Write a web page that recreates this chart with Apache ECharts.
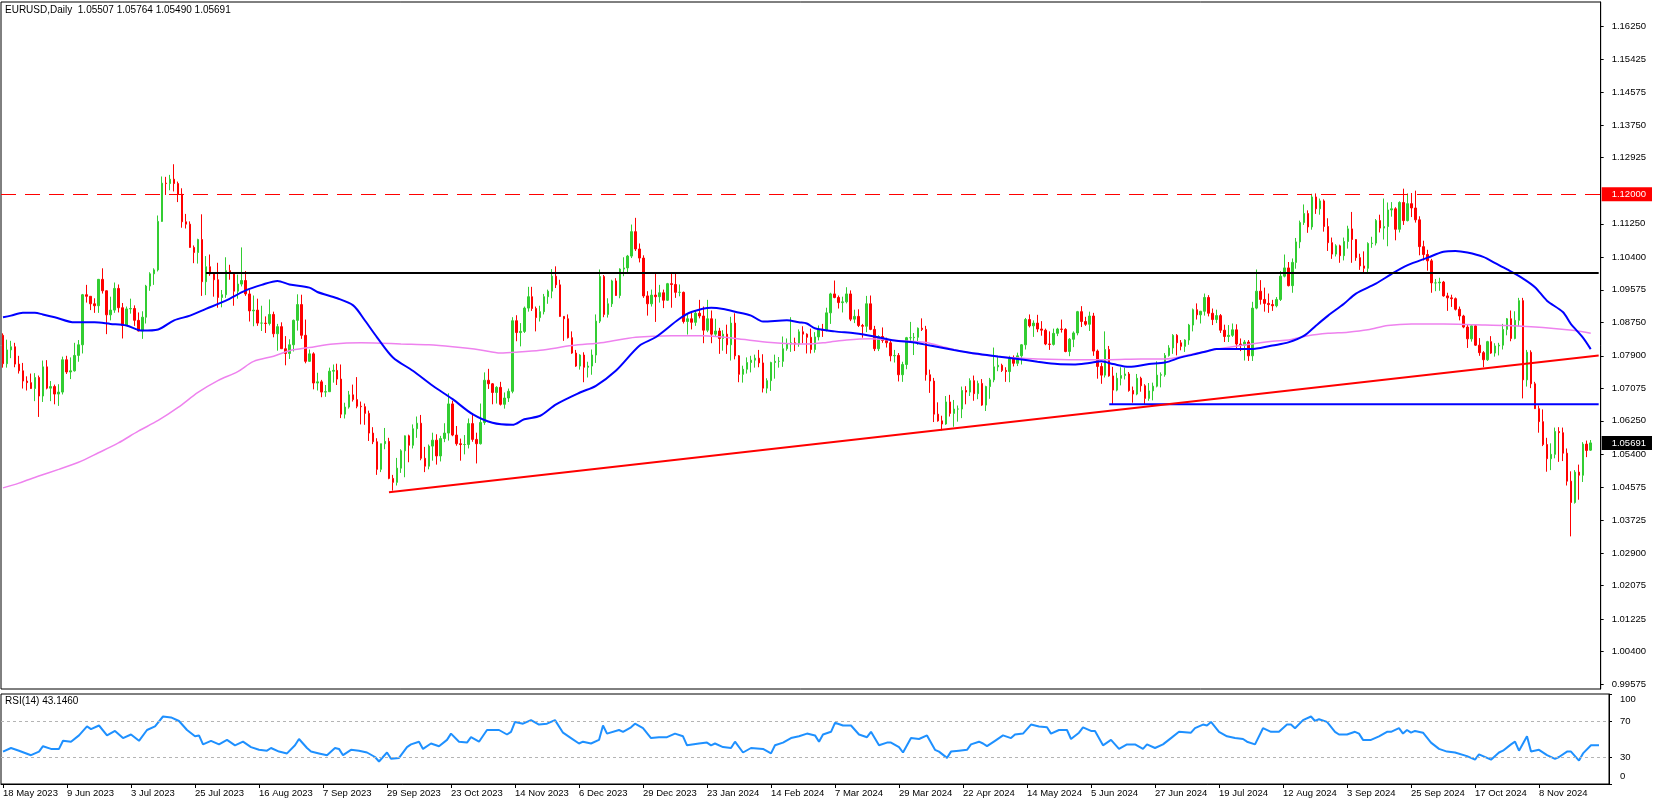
<!DOCTYPE html>
<html>
<head>
<meta charset="utf-8">
<title>EURUSD Daily</title>
<script src="https://cdn.jsdelivr.net/npm/echarts@6/dist/echarts.min.js"></script>
<style>
  html, body { margin: 0; padding: 0; background: #fff; }
  #chart { width: 1655px; height: 805px; }
</style>
</head>
<body>
<div id="chart"></div>
<script>
// daily bars, [open, high, low, close], 18 May 2023 .. 29 Nov 2024
const ohlc = [
  // May 2023
  [1.0842,1.0847,1.0760,1.0770],[1.0770,1.0831,1.0760,1.0805],[1.0805,1.0828,1.0784,1.0813],[1.0813,1.0823,1.0761,1.0769],
  [1.0769,1.0790,1.0745,1.0752],[1.0752,1.0772,1.0707,1.0726],[1.0726,1.0738,1.0702,1.0722],[1.0722,1.0745,1.0706,1.0707],
  [1.0707,1.0746,1.0675,1.0735],[1.0735,1.0740,1.0635,1.0688],
  // Jun 2023
  [1.0688,1.0778,1.0673,1.0762],[1.0762,1.0779,1.0705,1.0708],[1.0708,1.0726,1.0675,1.0712],[1.0712,1.0717,1.0667,1.0693],
  [1.0693,1.0718,1.0663,1.0698],[1.0698,1.0788,1.0692,1.0780],[1.0780,1.0790,1.0744,1.0749],[1.0749,1.0786,1.0731,1.0752],
  [1.0752,1.0823,1.0750,1.0791],[1.0791,1.0830,1.0775,1.0818],[1.0818,1.0947,1.0796,1.0945],[1.0945,1.0970,1.0925,1.0941],
  [1.0941,1.0941,1.0906,1.0922],[1.0922,1.0936,1.0899,1.0917],[1.0917,1.0985,1.0899,1.0984],[1.0984,1.1012,1.0948,1.0955],
  [1.0955,1.0956,1.0845,1.0894],[1.0894,1.0940,1.0880,1.0906],[1.0906,1.0976,1.0899,1.0961],[1.0961,1.0971,1.0900,1.0912],
  [1.0912,1.0924,1.0834,1.0867],[1.0867,1.0915,1.0866,1.0909],
  // Jul 2023
  [1.0909,1.0935,1.0897,1.0910],[1.0910,1.0918,1.0866,1.0880],[1.0880,1.0900,1.0852,1.0853],[1.0853,1.0903,1.0833,1.0888],
  [1.0888,1.0970,1.0872,1.0967],[1.0967,1.1002,1.0955,1.0998],[1.0998,1.1012,1.0970,1.1008],[1.1008,1.1146,1.1004,1.1131],
  [1.1131,1.1245,1.1130,1.1228],[1.1228,1.1244,1.1198,1.1227],[1.1227,1.1249,1.1210,1.1238],[1.1238,1.1276,1.1207,1.1227],
  [1.1227,1.1232,1.1180,1.1200],[1.1200,1.1215,1.1115,1.1130],[1.1130,1.1150,1.1113,1.1124],[1.1124,1.1131,1.1064,1.1065],
  [1.1065,1.1070,1.1025,1.1052],[1.1052,1.1087,1.1024,1.1085],[1.1085,1.1149,1.0942,1.0978],[1.0978,1.1043,1.0944,1.1016],
  [1.1016,1.1047,1.0993,1.0998],
  // Aug 2023
  [1.0998,1.1001,1.0940,1.0983],[1.0983,1.1026,1.0912,1.0938],[1.0938,1.0957,1.0913,1.0945],[1.0945,1.1040,1.0937,1.1006],
  [1.1006,1.1021,1.0983,1.0999],[1.0999,1.1002,1.0917,1.0954],[1.0954,1.0996,1.0935,1.0972],[1.0972,1.1065,1.0966,1.0981],
  [1.0981,1.1005,1.0942,1.0947],[1.0947,1.0957,1.0877,1.0904],[1.0904,1.0943,1.0865,1.0906],[1.0906,1.0935,1.0866,1.0873],
  [1.0873,1.0917,1.0853,1.0873],[1.0873,1.0890,1.0848,1.0872],[1.0872,1.0933,1.0867,1.0895],[1.0895,1.0902,1.0837,1.0846],
  [1.0846,1.0871,1.0803,1.0864],[1.0864,1.0875,1.0808,1.0808],[1.0808,1.0840,1.0766,1.0796],[1.0796,1.0832,1.0782,1.0818],
  [1.0818,1.0882,1.0801,1.0880],[1.0880,1.0946,1.0854,1.0920],[1.0920,1.0945,1.0833,1.0842],
  // Sep 2023
  [1.0842,1.0882,1.0771,1.0776],[1.0776,1.0806,1.0775,1.0795],[1.0795,1.0799,1.0705,1.0721],[1.0721,1.0747,1.0702,1.0724],
  [1.0724,1.0729,1.0685,1.0698],[1.0698,1.0716,1.0686,1.0699],[1.0699,1.0760,1.0699,1.0751],[1.0751,1.0768,1.0722,1.0753],
  [1.0753,1.0770,1.0716,1.0731],[1.0731,1.0768,1.0632,1.0642],[1.0642,1.0671,1.0631,1.0660],[1.0660,1.0701,1.0656,1.0691],
  [1.0691,1.0717,1.0674,1.0679],[1.0679,1.0736,1.0657,1.0662],[1.0662,1.0674,1.0616,1.0661],[1.0661,1.0669,1.0615,1.0644],
  [1.0644,1.0651,1.0574,1.0594],[1.0594,1.0609,1.0566,1.0572],[1.0572,1.0581,1.0488,1.0502],[1.0502,1.0567,1.0495,1.0567],
  [1.0567,1.0607,1.0553,1.0573],
  // Oct 2023
  [1.0573,1.0582,1.0477,1.0479],[1.0479,1.0488,1.0448,1.0469],[1.0469,1.0531,1.0461,1.0505],[1.0505,1.0553,1.0493,1.0549],
  [1.0549,1.0588,1.0482,1.0587],[1.0587,1.0590,1.0520,1.0563],[1.0563,1.0616,1.0555,1.0605],[1.0605,1.0636,1.0582,1.0619],
  [1.0619,1.0640,1.0525,1.0530],[1.0530,1.0559,1.0495,1.0510],[1.0510,1.0565,1.0502,1.0561],[1.0561,1.0595,1.0524,1.0576],
  [1.0576,1.0591,1.0514,1.0536],[1.0536,1.0587,1.0522,1.0580],[1.0580,1.0619,1.0571,1.0594],[1.0594,1.0695,1.0575,1.0668],
  [1.0668,1.0676,1.0586,1.0589],[1.0589,1.0612,1.0562,1.0567],[1.0567,1.0580,1.0524,1.0565],[1.0565,1.0589,1.0540,1.0565],
  [1.0565,1.0631,1.0555,1.0618],[1.0618,1.0640,1.0572,1.0578],
  // Nov 2023
  [1.0578,1.0595,1.0517,1.0567],[1.0567,1.0669,1.0565,1.0621],[1.0621,1.0748,1.0615,1.0728],[1.0728,1.0757,1.0706,1.0719],
  [1.0719,1.0721,1.0667,1.0697],[1.0697,1.0713,1.0669,1.0710],[1.0710,1.0724,1.0664,1.0667],[1.0667,1.0697,1.0656,1.0683],
  [1.0683,1.0707,1.0673,1.0700],[1.0700,1.0888,1.0695,1.0879],[1.0879,1.0893,1.0827,1.0849],[1.0849,1.0873,1.0814,1.0852],
  [1.0852,1.0915,1.0848,1.0911],[1.0911,1.0965,1.0902,1.0940],[1.0940,1.0965,1.0904,1.0910],[1.0910,1.0915,1.0852,1.0887],
  [1.0887,1.0917,1.0877,1.0902],[1.0902,1.0947,1.0895,1.0940],[1.0940,1.0958,1.0922,1.0954],[1.0954,1.1010,1.0936,1.0992],
  [1.0992,1.1017,1.0962,1.0970],[1.0970,1.0983,1.0889,1.0890],
  // Dec 2023
  [1.0890,1.0891,1.0828,1.0884],[1.0884,1.0895,1.0834,1.0836],[1.0836,1.0852,1.0795,1.0797],[1.0797,1.0805,1.0762,1.0764],
  [1.0764,1.0794,1.0755,1.0792],[1.0792,1.0799,1.0723,1.0761],[1.0761,1.0775,1.0735,1.0764],[1.0764,1.0806,1.0742,1.0792],
  [1.0792,1.0895,1.0772,1.0878],[1.0878,1.1009,1.0873,1.0991],[1.0991,1.0995,1.0888,1.0895],[1.0895,1.0936,1.0887,1.0922],
  [1.0922,1.0983,1.0914,1.0980],[1.0980,1.0987,1.0942,1.0943],[1.0943,1.1012,1.0936,1.1010],[1.1010,1.1040,1.0992,1.1013],
  [1.1013,1.1046,1.1001,1.1043],[1.1043,1.1123,1.1038,1.1105],[1.1105,1.1140,1.1056,1.1061],[1.1061,1.1075,1.1027,1.1038],
  // Jan 2024
  [1.1038,1.1045,1.0937,1.0942],[1.0942,1.0954,1.0892,1.0922],[1.0922,1.0958,1.0915,1.0944],[1.0944,1.0998,1.0876,1.0940],
  [1.0940,1.0970,1.0925,1.0950],[1.0950,1.0958,1.0911,1.0931],[1.0931,1.0975,1.0929,1.0973],[1.0973,1.0998,1.0912,1.0971],
  [1.0971,1.0998,1.0937,1.0951],[1.0951,1.0971,1.0941,1.0951],[1.0951,1.0953,1.0872,1.0877],[1.0877,1.0898,1.0844,1.0884],
  [1.0884,1.0900,1.0857,1.0875],[1.0875,1.0906,1.0866,1.0898],[1.0898,1.0932,1.0885,1.0891],[1.0891,1.0915,1.0822,1.0855],
  [1.0855,1.0932,1.0850,1.0884],[1.0884,1.0905,1.0822,1.0845],[1.0845,1.0884,1.0838,1.0853],[1.0853,1.0861,1.0795,1.0834],
  [1.0834,1.0855,1.0803,1.0845],[1.0845,1.0869,1.0795,1.0818],
  // Feb 2024
  [1.0818,1.0889,1.0778,1.0873],[1.0873,1.0898,1.0781,1.0790],[1.0790,1.0792,1.0723,1.0743],[1.0743,1.0765,1.0722,1.0756],
  [1.0756,1.0786,1.0745,1.0773],[1.0773,1.0790,1.0748,1.0779],[1.0779,1.0793,1.0760,1.0784],[1.0784,1.0805,1.0761,1.0772],
  [1.0772,1.0794,1.0697,1.0708],[1.0708,1.0733,1.0695,1.0727],[1.0727,1.0775,1.0701,1.0773],[1.0773,1.0793,1.0732,1.0776],
  [1.0776,1.0787,1.0760,1.0776],[1.0776,1.0839,1.0762,1.0808],[1.0808,1.0834,1.0803,1.0820],[1.0820,1.0888,1.0800,1.0823],
  [1.0823,1.0836,1.0802,1.0820],[1.0820,1.0857,1.0813,1.0851],[1.0851,1.0865,1.0822,1.0845],[1.0845,1.0847,1.0796,1.0837],
  [1.0837,1.0859,1.0796,1.0806],
  // Mar 2024
  [1.0806,1.0850,1.0798,1.0838],[1.0838,1.0867,1.0829,1.0857],[1.0857,1.0871,1.0838,1.0855],[1.0855,1.0912,1.0852,1.0899],
  [1.0899,1.0950,1.0871,1.0947],[1.0947,1.0981,1.0936,1.0938],[1.0938,1.0943,1.0910,1.0925],[1.0925,1.0940,1.0900,1.0927],
  [1.0927,1.0964,1.0923,1.0947],[1.0947,1.0956,1.0878,1.0883],[1.0883,1.0907,1.0873,1.0890],[1.0890,1.0908,1.0863,1.0867],
  [1.0867,1.0871,1.0836,1.0865],[1.0865,1.0942,1.0850,1.0922],[1.0922,1.0943,1.0855,1.0857],[1.0857,1.0866,1.0802,1.0808],
  [1.0808,1.0842,1.0802,1.0839],[1.0839,1.0862,1.0823,1.0829],[1.0829,1.0836,1.0811,1.0823],[1.0823,1.0828,1.0776,1.0790],
  [1.0790,1.0805,1.0773,1.0791],
  // Apr 2024
  [1.0791,1.0797,1.0725,1.0742],[1.0742,1.0775,1.0724,1.0768],[1.0768,1.0838,1.0756,1.0836],[1.0836,1.0876,1.0826,1.0836],
  [1.0836,1.0848,1.0792,1.0837],[1.0837,1.0862,1.0818,1.0860],[1.0860,1.0885,1.0853,1.0857],[1.0857,1.0866,1.0727,1.0742],
  [1.0742,1.0755,1.0696,1.0726],[1.0726,1.0734,1.0622,1.0642],[1.0642,1.0672,1.0623,1.0625],[1.0625,1.0638,1.0601,1.0617],
  [1.0617,1.0688,1.0615,1.0673],[1.0673,1.0691,1.0636,1.0644],[1.0644,1.0678,1.0610,1.0655],[1.0655,1.0664,1.0623,1.0655],
  [1.0655,1.0712,1.0632,1.0702],[1.0702,1.0713,1.0667,1.0698],[1.0698,1.0733,1.0688,1.0727],[1.0727,1.0740,1.0676,1.0694],
  [1.0694,1.0727,1.0680,1.0720],[1.0720,1.0731,1.0663,1.0665],
  // May 2024
  [1.0665,1.0714,1.0650,1.0712],[1.0712,1.0734,1.0681,1.0729],[1.0729,1.0811,1.0723,1.0762],[1.0762,1.0790,1.0751,1.0766],
  [1.0766,1.0770,1.0749,1.0753],[1.0753,1.0761,1.0724,1.0750],[1.0750,1.0790,1.0723,1.0783],[1.0783,1.0791,1.0763,1.0771],
  [1.0771,1.0798,1.0764,1.0790],[1.0790,1.0820,1.0768,1.0818],[1.0818,1.0886,1.0806,1.0882],[1.0882,1.0895,1.0862,1.0866],
  [1.0866,1.0880,1.0838,1.0873],[1.0873,1.0894,1.0850,1.0858],[1.0858,1.0878,1.0841,1.0855],[1.0855,1.0859,1.0817,1.0820],
  [1.0820,1.0852,1.0805,1.0819],[1.0819,1.0859,1.0816,1.0847],[1.0847,1.0861,1.0840,1.0858],[1.0858,1.0882,1.0849,1.0857],
  [1.0857,1.0860,1.0799,1.0801],[1.0801,1.0835,1.0789,1.0832],[1.0832,1.0852,1.0812,1.0848],
  // Jun 2024
  [1.0848,1.0904,1.0842,1.0902],[1.0902,1.0916,1.0863,1.0877],[1.0877,1.0889,1.0866,1.0870],[1.0870,1.0902,1.0853,1.0891],
  [1.0891,1.0899,1.0790,1.0802],[1.0802,1.0806,1.0732,1.0763],[1.0763,1.0772,1.0719,1.0741],[1.0741,1.0852,1.0735,1.0806],
  [1.0806,1.0815,1.0737,1.0739],[1.0739,1.0762,1.0668,1.0703],[1.0703,1.0747,1.0700,1.0733],[1.0733,1.0761,1.0715,1.0740],
  [1.0740,1.0760,1.0730,1.0744],[1.0744,1.0749,1.0699,1.0702],[1.0702,1.0712,1.0671,1.0693],[1.0693,1.0744,1.0690,1.0733],
  [1.0733,1.0737,1.0699,1.0714],[1.0714,1.0718,1.0666,1.0682],[1.0682,1.0721,1.0676,1.0701],[1.0701,1.0722,1.0677,1.0713],
  // Jul 2024
  [1.0713,1.0776,1.0710,1.0741],[1.0741,1.0748,1.0710,1.0742],[1.0742,1.0797,1.0737,1.0791],[1.0791,1.0817,1.0788,1.0810],
  [1.0810,1.0845,1.0795,1.0842],[1.0842,1.0845,1.0791,1.0823],[1.0823,1.0830,1.0804,1.0814],[1.0814,1.0832,1.0800,1.0830],
  [1.0830,1.0871,1.0818,1.0868],[1.0868,1.0910,1.0852,1.0907],[1.0907,1.0923,1.0882,1.0894],[1.0894,1.0904,1.0872,1.0903],
  [1.0903,1.0948,1.0892,1.0938],[1.0938,1.0944,1.0890,1.0898],[1.0898,1.0910,1.0868,1.0882],[1.0882,1.0907,1.0873,1.0892],
  [1.0892,1.0896,1.0848,1.0855],[1.0855,1.0869,1.0825,1.0839],[1.0839,1.0868,1.0825,1.0842],[1.0842,1.0872,1.0838,1.0856],
  [1.0856,1.0870,1.0810,1.0820],[1.0820,1.0834,1.0802,1.0817],[1.0817,1.0830,1.0778,1.0825],
  // Aug 2024
  [1.0825,1.0830,1.0777,1.0790],[1.0790,1.0927,1.0777,1.0911],[1.0911,1.1009,1.0908,1.0954],[1.0954,1.0982,1.0920,1.0933],
  [1.0933,1.0963,1.0902,1.0923],[1.0923,1.0948,1.0899,1.0920],[1.0920,1.0932,1.0904,1.0917],[1.0917,1.0939,1.0913,1.0933],
  [1.0933,1.1005,1.0929,1.0992],[1.0992,1.1047,1.0989,1.1013],[1.1013,1.1028,1.0966,1.0968],[1.0968,1.1037,1.0950,1.1027],
  [1.1027,1.1089,1.1011,1.1079],[1.1079,1.1133,1.1063,1.1128],[1.1128,1.1174,1.1122,1.1151],[1.1151,1.1159,1.1102,1.1117],
  [1.1117,1.1201,1.1110,1.1193],[1.1193,1.1202,1.1150,1.1163],[1.1163,1.1189,1.1148,1.1183],[1.1183,1.1187,1.1105,1.1118],
  [1.1118,1.1139,1.1056,1.1077],[1.1077,1.1090,1.1036,1.1048],
  // Sep 2024
  [1.1048,1.1073,1.1042,1.1069],[1.1069,1.1072,1.1026,1.1044],[1.1044,1.1090,1.1032,1.1080],[1.1080,1.1120,1.1062,1.1112],
  [1.1112,1.1155,1.1026,1.1085],[1.1085,1.1086,1.1031,1.1039],[1.1039,1.1049,1.1008,1.1018],[1.1018,1.1055,1.1001,1.1012],
  [1.1012,1.1078,1.1002,1.1075],[1.1075,1.1092,1.1064,1.1076],[1.1076,1.1137,1.1070,1.1133],[1.1133,1.1148,1.1103,1.1114],
  [1.1114,1.1189,1.1085,1.1118],[1.1118,1.1179,1.1068,1.1160],[1.1160,1.1180,1.1143,1.1163],[1.1163,1.1167,1.1083,1.1111],
  [1.1111,1.1182,1.1103,1.1179],[1.1179,1.1214,1.1122,1.1133],[1.1133,1.1202,1.1131,1.1176],[1.1176,1.1203,1.1142,1.1165],
  [1.1165,1.1209,1.1128,1.1135],
  // Oct 2024
  [1.1135,1.1144,1.1045,1.1067],[1.1067,1.1082,1.1032,1.1047],[1.1047,1.1059,1.1006,1.1031],[1.1031,1.1036,1.0950,1.0975],
  [1.0975,1.0985,1.0954,1.0975],[1.0975,1.0988,1.0955,1.0977],[1.0977,1.0980,1.0940,1.0942],[1.0942,1.0950,1.0904,1.0937],
  [1.0937,1.0945,1.0914,1.0935],[1.0935,1.0938,1.0905,1.0908],[1.0908,1.0915,1.0880,1.0891],[1.0891,1.0894,1.0860,1.0863],
  [1.0863,1.0870,1.0810,1.0833],[1.0833,1.0870,1.0826,1.0866],[1.0866,1.0868,1.0815,1.0817],[1.0817,1.0835,1.0790,1.0798],
  [1.0798,1.0802,1.0761,1.0780],[1.0780,1.0828,1.0777,1.0826],[1.0826,1.0840,1.0795,1.0797],[1.0797,1.0822,1.0788,1.0815],
  [1.0815,1.0823,1.0791,1.0817],[1.0817,1.0871,1.0806,1.0857],[1.0857,1.0886,1.0842,1.0884],
  // Nov 2024
  [1.0884,1.0905,1.0827,1.0834],[1.0834,1.0903,1.0832,1.0880],[1.0880,1.0937,1.0865,1.0930],[1.0930,1.0937,1.0682,1.0729],
  [1.0729,1.0805,1.0712,1.0799],[1.0799,1.0804,1.0708,1.0719],[1.0719,1.0724,1.0655,1.0656],[1.0656,1.0664,1.0595,1.0623],
  [1.0623,1.0654,1.0561,1.0565],[1.0565,1.0582,1.0496,1.0529],[1.0529,1.0568,1.0500,1.0540],[1.0540,1.0608,1.0530,1.0598],
  [1.0598,1.0609,1.0521,1.0595],[1.0595,1.0608,1.0523,1.0543],[1.0543,1.0555,1.0461,1.0472],[1.0472,1.0497,1.0332,1.0418],
  [1.0418,1.0500,1.0415,1.0495],[1.0495,1.0514,1.0425,1.0487],[1.0487,1.0571,1.0470,1.0566],[1.0566,1.0575,1.0533,1.0550],
  [1.05507,1.05764,1.05490,1.05691]
];

// moving averages: bar index -> value
const maFastIdx = [0,2,5,8,10,13,18,23,27,31,35,39,43,47,51,56,61,65,69,72,77,79,84,88,91,94,98,103,108,113,118,123,128,131,135,139,145,149,154,160,164,170,173,178,181,184,188,191,197,200,202,204,209,214,219,224,229,233,239,245,250,255,260,265,269,273,276,279,283,288,292,296,299,303,305,309,313,316,319,323,327,330,333,337,340,345,349,353,358,362,365,368,372,375,378,382,385,388,392,394,397,399];
const maFastVal = [1.0888,1.0892,1.0899,1.0899,1.0895,1.0888,1.0875,1.0875,1.0871,1.0867,1.0854,1.0857,1.0880,1.0892,1.0909,1.0930,1.0956,1.0970,1.0980,1.0971,1.0963,1.0952,1.0936,1.0918,1.0879,1.0837,1.0786,1.0752,1.0714,1.0680,1.0642,1.0620,1.0615,1.0629,1.0638,1.0667,1.0697,1.0714,1.0752,1.0816,1.0837,1.0884,1.0901,1.0912,1.0909,1.0902,1.0892,1.0877,1.0880,1.0875,1.0872,1.0860,1.0852,1.0847,1.0839,1.0829,1.0824,1.0816,1.0805,1.0795,1.0788,1.0782,1.0775,1.0769,1.0768,1.0772,1.0776,1.0769,1.0762,1.0769,1.0773,1.0786,1.0793,1.0803,1.0807,1.0807,1.0807,1.0810,1.0816,1.0824,1.0841,1.0867,1.0892,1.0922,1.0948,1.0973,1.0998,1.1020,1.1039,1.1054,1.1056,1.1052,1.1041,1.1025,1.1009,1.0986,1.0964,1.0930,1.0901,1.0871,1.0837,1.0807];
const maSlowIdx = [0,4,9,14,19,24,29,34,39,44,49,54,59,63,68,72,77,83,90,95,100,107,113,120,125,129,135,143,151,159,168,176,184,193,202,207,212,218,223,228,232,237,242,248,253,260,270,278,286,292,297,303,311,319,323,328,333,338,343,348,354,362,370,378,387,395,399];
const maSlowVal = [1.0455,1.0467,1.0485,1.0502,1.0520,1.0544,1.0569,1.0599,1.0626,1.0659,1.0697,1.0727,1.0750,1.0776,1.0789,1.0803,1.0811,1.0820,1.0823,1.0822,1.0820,1.0818,1.0813,1.0805,1.0797,1.0799,1.0804,1.0816,1.0824,1.0837,1.0841,1.0841,1.0834,1.0824,1.0820,1.0824,1.0830,1.0833,1.0830,1.0827,1.0824,1.0811,1.0799,1.0790,1.0786,1.0782,1.0780,1.0780,1.0782,1.0782,1.0790,1.0803,1.0816,1.0827,1.0830,1.0841,1.0847,1.0850,1.0856,1.0867,1.0871,1.0871,1.0869,1.0867,1.0862,1.0854,1.0847];

// RSI(14): bar index -> value
const rsiIdx = [0,2,4,7,9,10,12,14,15,17,19,21,22,24,26,28,30,32,34,36,38,40,42,44,46,48,49,50,52,54,56,58,60,62,64,66,67,69,71,73,74,76,77,79,81,83,84,85,87,89,91,93,94,96,97,99,101,102,104,105,107,109,111,112,114,116,117,119,121,124,126,127,128,130,132,134,136,138,140,142,144,145,147,149,150,151,154,155,157,158,160,162,164,166,168,170,171,174,176,177,178,180,182,183,185,187,190,192,193,195,197,199,201,203,204,205,207,
  208,210,212,214,216,217,219,221,222,224,225,227,229,231,233,234,236,237,239,241,242,244,245,246,248,250,252,253,255,257,259,261,262,264,266,267,269,270,272,273,275,277,279,281,283,285,286,288,290,292,294,297,298,300,301,302,304,306,308,310,311,313,315,317,319,321,322,323,325,327,328,329,331,333,334,336,338,339,340,342,344,346,347,349,350,351,352,353,355,357,359,361,363,366,368,369,372,374,375,377,378,379,381,382,384,386,388,389,391,392,394,395,397,398,399];
const rsiVal = [36,40,37,32,36,42,39,39,48,47,54,64,61,65,54,59,51,55,48,60,64,75,74,70,60,53,54,44,48,44,49,43,47,41,38,37,40,36,34,43,50,40,36,34,32,40,39,32,38,37,35,30,25,35,28,29,41,44,47,39,45,42,49,56,47,46,52,47,60,60,55,58,69,67,71,66,67,71,57,51,45,47,45,49,65,56,60,58,63,67,62,51,52,52,56,53,43,45,46,43,45,41,40,47,35,40,39,34,43,46,51,53,56,54,47,55,58,
  68,65,65,55,52,58,43,46,46,41,35,51,50,54,38,36,29,36,37,38,44,47,45,42,48,54,51,55,56,66,64,63,56,60,60,50,57,63,59,59,43,49,39,44,44,39,44,40,44,51,58,57,62,66,65,69,58,53,51,50,47,44,62,58,58,66,66,62,71,75,70,72,69,58,55,55,58,56,49,49,53,58,58,62,56,60,57,59,57,46,39,36,35,31,27,33,27,35,37,44,47,37,53,36,38,32,28,30,36,36,26,34,43,43,43];

// axis tick labels and drawn levels
const priceTicks = [1.16250,1.15425,1.14575,1.13750,1.12925,1.11250,1.10400,1.09575,1.08750,1.07900,1.07075,1.06250,1.05400,1.04575,1.03725,1.02900,1.02075,1.01225,1.00400,0.99575];
const rsiTicks = [100, 70, 30, 0];
const rsiLevels = [70, 30];
const resistance = 1.12000;
const rangeTop = [[51, 1.1000], [401, 1.1000]];
const rangeLow = [[278, 1.0667], [401, 1.0667]];
const trendLine = [[97, 1.0444], [401, 1.0791]];
const lastClose = 1.05691;

const MONTHS = ["Jan","Feb","Mar","Apr","May","Jun","Jul","Aug","Sep","Oct","Nov","Dec"];
const dates = [];
for (let t = Date.UTC(2023, 4, 18); dates.length < ohlc.length; t += 86400000) {
  const d = new Date(t);
  const wd = d.getUTCDay();
  if (wd === 0 || wd === 6) continue;
  if (d.getUTCMonth() === 11 && d.getUTCDate() === 25) continue;
  if (d.getUTCMonth() === 0 && d.getUTCDate() === 1) continue;
  dates.push(d.getUTCDate() + " " + MONTHS[d.getUTCMonth()] + " " + d.getUTCFullYear());
}
// two empty slots on the right (chart shift)
const categories = dates.concat(["+1", "+2"]);

const pair = (idx, val) => idx.map((x, i) => [x, val[i]]);
const FONT = "Liberation Sans";
const showDate = (i) => i % 16 === 0 && i <= 384;

const chart = echarts.init(document.getElementById("chart"));

chart.setOption({
  animation: false,
  backgroundColor: "#ffffff",
  textStyle: { fontFamily: FONT },
  grid: [
    { left: 1, top: 2, width: 1608, height: 687, show: true, borderColor: "#000", borderWidth: 1 },
    { left: 1, top: 694, width: 1608, height: 90, show: true, borderColor: "#000", borderWidth: 1 }
  ],
  xAxis: [
    { type: "category", gridIndex: 0, data: categories, boundaryGap: true,
      axisLine: { show: false }, axisTick: { show: false }, axisLabel: { show: false }, splitLine: { show: false } },
    { type: "category", gridIndex: 1, data: categories, boundaryGap: true,
      axisLine: { show: true, lineStyle: { color: "#000", width: 1 } },
      axisTick: { show: true, interval: showDate, alignWithLabel: true, length: 4, lineStyle: { color: "#000" } },
      axisLabel: { show: true, interval: showDate, align: "left", margin: 4, fontSize: 9.5, color: "#000", fontFamily: FONT },
      splitLine: { show: false } }
  ],
  yAxis: [
    { type: "value", gridIndex: 0, position: "right", min: 0.99448, max: 1.168757,
      axisLine: { show: true, lineStyle: { color: "#000" } },
      axisTick: { show: true, customValues: priceTicks, length: 3, lineStyle: { color: "#000" } },
      axisLabel: {
        show: true, customValues: priceTicks.concat([resistance, lastClose]), margin: 1,
        formatter: (v) => {
          if (v === resistance) return "{red|" + v.toFixed(5) + "}";
          if (v === lastClose) return "{cur|" + v.toFixed(5) + "}";
          return "{n|" + v.toFixed(5) + "}";
        },
        rich: {
          n: { fontSize: 9.5, color: "#000", fontFamily: FONT, padding: [0, 0, 0, 10] },
          red: { fontSize: 9.5, color: "#fff", fontFamily: FONT, backgroundColor: "#ff0000", padding: [2, 6, 2, 10] },
          cur: { fontSize: 9.5, color: "#fff", fontFamily: FONT, backgroundColor: "#000000", padding: [2, 6, 2, 10] }
        }
      },
      splitLine: { show: false } },
    { type: "value", gridIndex: 1, position: "right", min: 0, max: 100,
      axisLine: { show: true, lineStyle: { color: "#000" } },
      axisTick: { show: true, customValues: rsiTicks, length: 3, lineStyle: { color: "#000" } },
      axisLabel: {
        show: true, customValues: rsiTicks, margin: 1,
        formatter: (v) => v === 100 ? "{top|100}" : v === 0 ? "{bot|0}" : "{n|" + v + "}",
        rich: {
          n: { fontSize: 9.5, color: "#000", fontFamily: FONT, padding: [0, 0, 0, 10] },
          top: { fontSize: 9.5, color: "#000", fontFamily: FONT, padding: [10, 0, 0, 10] },
          bot: { fontSize: 9.5, color: "#000", fontFamily: FONT, padding: [0, 0, 16, 10] }
        }
      },
      splitLine: { show: false } }
  ],
  graphic: [
    { type: "text", left: 5, top: 5, silent: true,
      style: { text: "EURUSD,Daily  1.05507 1.05764 1.05490 1.05691", font: "10px 'Liberation Sans'", fill: "#000" } },
    { type: "text", left: 5, top: 696, silent: true,
      style: { text: "RSI(14) 43.1460", font: "10px 'Liberation Sans'", fill: "#000" } }
  ],
  series: [
    {
      name: "EURUSD", type: "candlestick", xAxisIndex: 0, yAxisIndex: 0,
      data: ohlc.map(b => [b[0], b[3], b[2], b[1]]),
      barWidth: 2,
      itemStyle: { color: "#32cd32", color0: "#ff0000", borderColor: "#32cd32", borderColor0: "#ff0000", borderWidth: 1 },
      markLine: {
        silent: true, symbol: ["none", "none"], label: { show: false },
        lineStyle: { color: "#ff0000", type: [15, 9], width: 1 },
        data: [{ yAxis: resistance }]
      }
    },
    { name: "MA200", type: "line", xAxisIndex: 0, yAxisIndex: 0, data: pair(maSlowIdx, maSlowVal),
      symbol: "none", smooth: 0.3, lineStyle: { color: "#ee82ee", width: 1.5 } },
    { name: "MA50", type: "line", xAxisIndex: 0, yAxisIndex: 0, data: pair(maFastIdx, maFastVal),
      symbol: "none", smooth: 0.3, lineStyle: { color: "#0000ff", width: 2 } },
    { name: "range top", type: "line", xAxisIndex: 0, yAxisIndex: 0, data: rangeTop,
      symbol: "none", lineStyle: { color: "#000000", width: 2 } },
    { name: "range low", type: "line", xAxisIndex: 0, yAxisIndex: 0, data: rangeLow,
      symbol: "none", lineStyle: { color: "#0000ff", width: 2 } },
    { name: "trend", type: "line", xAxisIndex: 0, yAxisIndex: 0, data: trendLine,
      symbol: "none", lineStyle: { color: "#ff0000", width: 2 } },
    {
      name: "RSI", type: "line", xAxisIndex: 1, yAxisIndex: 1, data: pair(rsiIdx, rsiVal),
      symbol: "none", lineStyle: { color: "#1e90ff", width: 2 },
      markLine: {
        silent: true, symbol: ["none", "none"], label: { show: false },
        lineStyle: { color: "#b4b4b4", type: [3, 3], width: 1 },
        data: rsiLevels.map(v => ({ yAxis: v }))
      }
    }
  ]
});
</script>
</body>
</html>
